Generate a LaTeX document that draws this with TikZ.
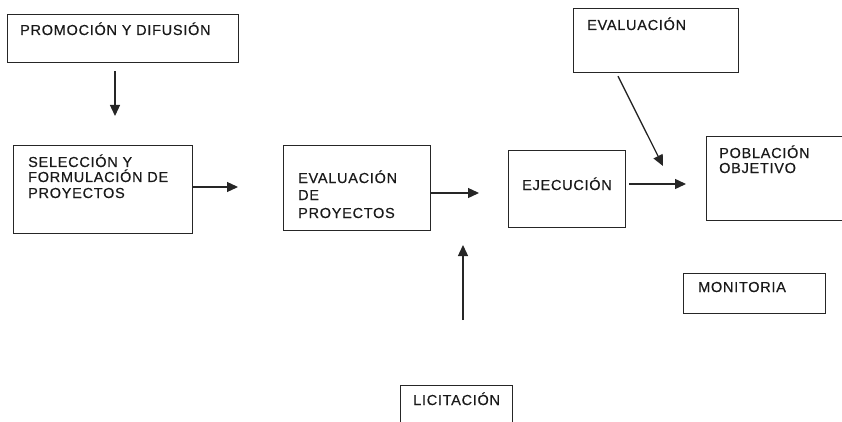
\documentclass[tikz,border=0pt]{standalone}
\usepackage{fontspec}
\setmainfont{Liberation Sans}[LetterSpace=5,FakeBold=0.4]
\usetikzlibrary{arrows.meta}
\begin{document}
\begin{tikzpicture}[x=1pt,y=-1pt,
  box/.style={draw=black!85,line width=1.2pt,inner sep=0pt,anchor=north west},
  txt/.style={anchor=base west,inner sep=0pt,font=\fontsize{14.5}{16}\selectfont,text=black!90},
  arr/.style={draw=black!85,line width=1.3pt,-{Triangle[length=11pt,width=10pt]}}]
\useasboundingbox (0,0) rectangle (842,422);
\clip (0,0) rectangle (842,422);
% boxes
\node[box,minimum width=231pt,minimum height=48pt] (prom) at (7,14) {};
\node[box,minimum width=179pt,minimum height=88pt] (sel) at (13,145) {};
\node[box,minimum width=147pt,minimum height=85pt] (evp) at (283,145) {};
\node[box,minimum width=117pt,minimum height=77pt] (eje) at (508,150) {};
\node[box,minimum width=165pt,minimum height=64pt] (eva) at (573,8) {};
\node[box,minimum width=150pt,minimum height=84pt] (pob) at (706,136) {};
\node[box,minimum width=142pt,minimum height=40pt] (mon) at (683,273) {};
\node[box,minimum width=112pt,minimum height=60pt] (lic) at (400,385) {};
% labels
\node[txt] (promT) at (20,35) {PROMOCIÓN Y DIFUSIÓN};
\node[txt] (selT1) at (28,167) {SELECCIÓN Y};
\node[txt] (selT2) at (28,182) {FORMULACIÓN DE};
\node[txt] (selT3) at (28,198) {PROYECTOS};
\node[txt] (evpT1) at (298,183) {EVALUACIÓN};
\node[txt] (evpT2) at (298,200) {DE};
\node[txt] (evpT3) at (298,218) {PROYECTOS};
\node[txt] (ejeT) at (522,190) {EJECUCIÓN};
\node[txt] (evaT) at (587,30) {EVALUACIÓN};
\node[txt] (pobT1) at (719,158) {POBLACIÓN};
\node[txt] (pobT2) at (719,173) {OBJETIVO};
\node[txt] (monT) at (698,292) {MONITORIA};
\node[txt] (licT) at (413,405) {LICITACIÓN};
% free ends of the arrows
\coordinate (promEnd) at (115,116);
\coordinate (selEnd) at (238,187);
\coordinate (evpEnd) at (479,193);
\coordinate (ejeEnd) at (686,184);
\coordinate (evaEnd) at (663,166);
\coordinate (licStart) at (463,320);
\coordinate (licEnd) at (463,245);
% arrows
\draw[arr] (prom.south -| promEnd) ++(0,8) -- (promEnd);
\draw[arr] (sel.east |- selEnd) -- (selEnd);
\draw[arr] (evp.east |- evpEnd) -- (evpEnd);
\draw[arr] (eje.east |- ejeEnd) ++(3,0) -- (ejeEnd);
\draw[arr] (eva.south west) ++(45,3) -- (evaEnd);
\draw[arr] (licStart) -- (licEnd);
\end{tikzpicture}
\end{document}
